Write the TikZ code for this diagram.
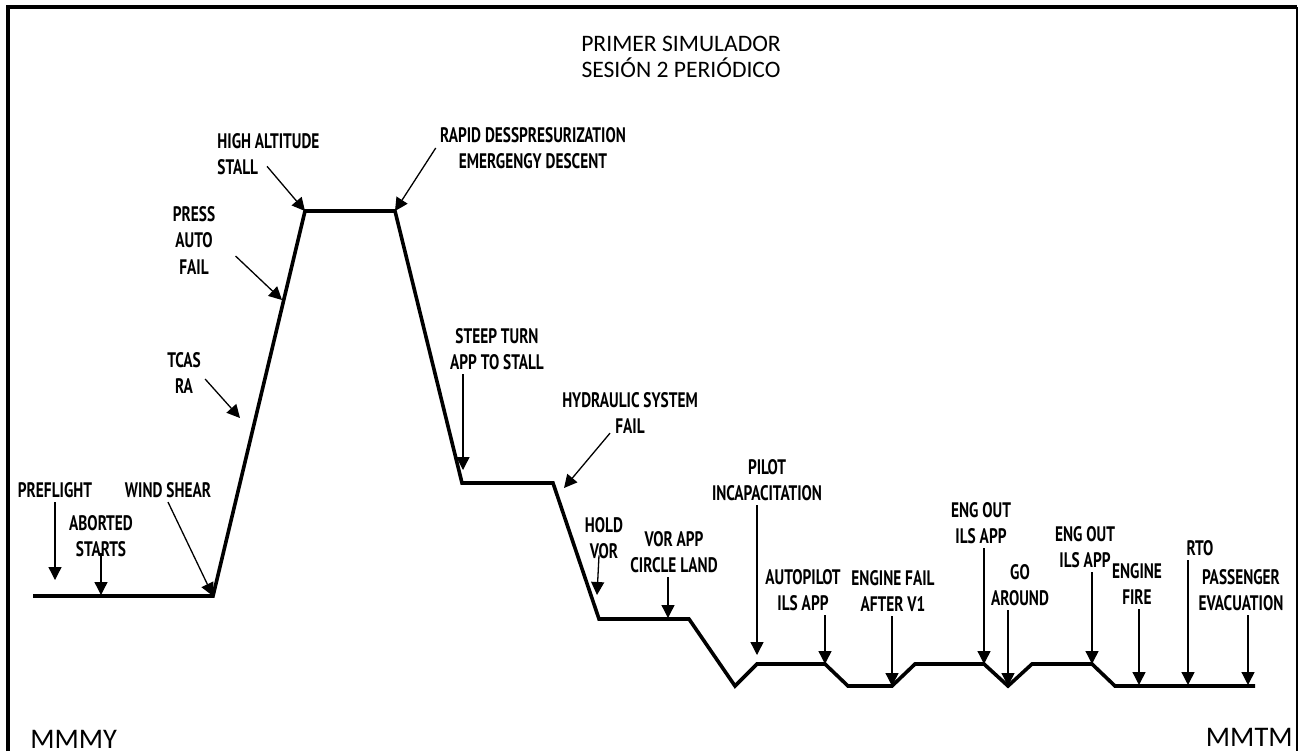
\documentclass[tikz,border=0pt]{standalone}
\usepackage{fontspec}
\setmainfont{Carlito}
\newfontfamily\lblfont[FakeStretch=0.73]{PT Sans}
\usetikzlibrary{arrows.meta}
\tikzstyle{lbl} = [font=\lblfont\bfseries\fontsize{10.5}{13.25}\selectfont, align=center, inner sep=2pt]
\tikzstyle{arrow} = [line width=0.65pt,-{Triangle[width=6.5pt,length=6.5pt]}]
\tikzstyle{profile} = [line width=1.8pt, line join=miter]
\tikzstyle{frame} = [line width=1.6pt]

\begin{document}
\begin{tikzpicture}[x=0.5pt, y=-0.5pt]
\useasboundingbox (0,0) rectangle (1299,751);

% frame
\draw[frame] (8,751) -- (8,7) -- (1297,7);
\draw[line width=1pt] (1297,7) -- (1297,751);

% titles
\node (title) [align=center, font=\fontsize{11.8}{13}\selectfont] at (681,57) {PRIMER SIMULADOR\\SESIÓN 2 PERIÓDICO};
\node (origin) [anchor=north west, inner sep=0pt, font=\fontsize{14.2}{16}\selectfont] at (30,730) {MMMY};
\node (dest) [anchor=north east, inner sep=0pt, font=\fontsize{14.2}{16}\selectfont] at (1293,728) {MMTM};

% flight profile
\coordinate (p1) at (33,596);
\coordinate (p2) at (213,596);
\coordinate (p3) at (305,211);
\coordinate (p4) at (395,211);
\coordinate (p5) at (462,483);
\coordinate (p6) at (553,483);
\coordinate (p7) at (599,619);
\coordinate (p8) at (689,619);
\coordinate (p9) at (735,686);
\coordinate (p10) at (757,664);
\coordinate (p11) at (825,664);
\coordinate (p12) at (848,686);
\coordinate (p13) at (892,686);
\coordinate (p14) at (915,664);
\coordinate (p15) at (984,664);
\coordinate (p16) at (1008,686);
\coordinate (p17) at (1032,664);
\coordinate (p18) at (1092,664);
\coordinate (p19) at (1115,686);
\coordinate (p20) at (1255,686);
\draw[profile] (p1) -- (p2) -- (p3) -- (p4) -- (p5) -- (p6) -- (p7) -- (p8) -- (p9) -- (p10)
  -- (p11) -- (p12) -- (p13) -- (p14) -- (p15) -- (p16) -- (p17) -- (p18) -- (p19) -- (p20);

% where the arrows point
\coordinate (t1) at (55,580);
\coordinate (t2) at (101,595);
\coordinate (t3) at (240,418);
\coordinate (t4) at (282,300);
\coordinate (t5) at (463,470);
\coordinate (t6) at (564,488);
\coordinate (t7) at (597,595);
\coordinate (t8) at (668,618);
\coordinate (t9) at (757,655);
\coordinate (t10) at (1139,685);
\coordinate (t11) at (1188,685);
\coordinate (t12) at (1248,685);

% events
\node (preflight) [lbl] at (55,490) {PREFLIGHT};
\node (aborted) [lbl] at (101,536) {ABORTED\\STARTS};
\node (windshear) [lbl] at (168,490) {WIND SHEAR};
\node (tcas) [lbl] at (184,373) {TCAS\\RA};
\node (press) [lbl] at (194,240) {PRESS\\AUTO\\FAIL};
\node (highalt) [lbl, align=left, anchor=west] at (213,154) {HIGH ALTITUDE\\STALL};
\node (rapid) [lbl] at (533,148) {RAPID DESSPRESURIZATION\\EMERGENGY DESCENT};
\node (steep) [lbl] at (497,349) {STEEP TURN\\APP TO STALL};
\node (hydraulic) [lbl] at (630,413) {HYDRAULIC SYSTEM\\FAIL};
\node (hold) [lbl] at (604,538) {HOLD\\VOR};
\node (vorapp) [lbl] at (674,552) {VOR APP\\CIRCLE LAND};
\node (pilot) [lbl] at (767,480) {PILOT\\INCAPACITATION};
\node (autopilot) [lbl] at (803,590) {AUTOPILOT\\ILS APP};
\node (enginefail) [lbl] at (893,591) {ENGINE FAIL\\AFTER V1};
\node (engout) [lbl] at (981,523) {ENG OUT\\ILS APP};
\node (goaround) [lbl] at (1020,585) {GO\\AROUND};
\node (engout2) [lbl] at (1085,547) {ENG OUT\\ILS APP};
\node (enginefire) [lbl] at (1137,584) {ENGINE\\FIRE};
\node (rto) [lbl] at (1200,548) {RTO};
\node (passenger) [lbl] at (1241,590) {PASSENGER\\EVACUATION};

\draw [arrow](preflight.south -| t1) -- (t1);
\draw [arrow]([yshift=4pt]aborted.south -| t2) -- (t2);
\draw [arrow](windshear.south) -- (p2);
\draw [arrow]([yshift=-3pt]tcas.east) -- (t3);
\draw [arrow]([xshift=8pt,yshift=-8pt]press.east) -- (t4);
\draw [arrow]([xshift=27pt,yshift=6.5pt]highalt.south west) -- (p3);
\draw [arrow](rapid.west) -- (p4);
\draw [arrow](steep.south -| t5) -- (t5);
\draw [arrow]([xshift=-10pt,yshift=2.5pt]hydraulic.south) -- (t6);
\draw [arrow]([xshift=-2.5pt,yshift=4pt]hold.south) -- (t7);
\draw [arrow](vorapp.south -| t8) -- (t8);
\draw [arrow](pilot.south -| t9) -- (t9);
\draw [arrow](autopilot.south -| p11) -- (p11);
\draw [arrow](enginefail.south -| p13) -- (p13);
\draw [arrow](engout.south -| p15) -- (p15);
\draw [arrow](goaround.south -| p16) -- (p16);
\draw [arrow](engout2.south -| p18) -- (p18);
\draw [arrow](enginefire.south -| t10) -- (t10);
\draw [arrow](rto.south -| t11) -- (t11);
\draw [arrow](passenger.south -| t12) -- (t12);

\end{tikzpicture}
\end{document}
